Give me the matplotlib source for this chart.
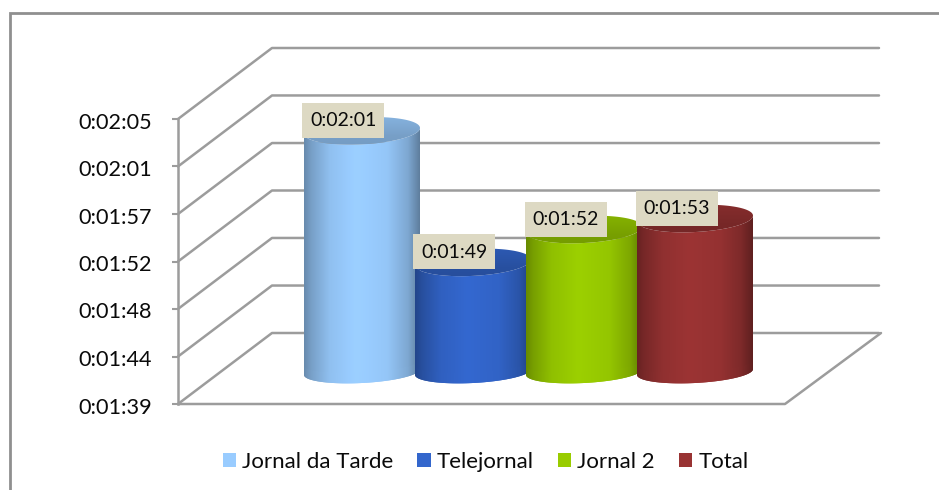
import numpy as np
import matplotlib
matplotlib.use("Agg")
import matplotlib.pyplot as plt
from matplotlib.path import Path
from matplotlib.patches import PathPatch, Rectangle
from matplotlib.transforms import IdentityTransform, ScaledTranslation
from matplotlib.lines import Line2D
from matplotlib.colors import to_rgb

series = ["Jornal da Tarde", "Telejornal", "Jornal 2", "Total"]
seconds = [121, 109, 112, 113]
value_labels = ["0:02:01", "0:01:49", "0:01:52", "0:01:53"]
colors = ["#99CCFF", "#3366CC", "#99CC00", "#993333"]
tick_seconds = [99, 103.33, 107.67, 112, 116.33, 120.67, 125]
tick_labels = ["0:01:39", "0:01:44", "0:01:48", "0:01:52", "0:01:57", "0:02:01", "0:02:05"]

W, H = 939, 490
FONT = "Lato"
GREY = "#9c9c9c"
plt.rcParams["font.family"] = [FONT, "DejaVu Sans"]

fig = plt.figure(figsize=(W / 100, H / 100), dpi=100, facecolor="white")
ax = fig.add_axes([0, 0, 1, 1])
# front plane of the 3-D box: pixels x 178..785, y 404..119
ppx = 607.0
ppy = 285.0 / 26
ax.set_xlim(-0.5 - 178 / ppx, 0.5 + (W - 785) / ppx)
ax.set_ylim(99 - (H - 404) / ppy, 125 + 119 / ppy)
for s in ("top", "right", "bottom"):
    ax.spines[s].set_visible(False)
ax.spines["left"].set_position(("data", -0.5))
ax.spines["left"].set_bounds(99, 125)
ax.spines["left"].set_color(GREY)
ax.spines["left"].set_linewidth(1.8)
ax.set_xticks([])
ax.set_yticks(tick_seconds, tick_labels)
ax.tick_params(axis="y", length=4.5, width=1.5, color=GREY, labelsize=15.6, pad=14, labelcolor="#0a0a0a")
ax.patch.set_alpha(0)
for lab in ax.get_yticklabels():
    lab.set_transform(lab.get_transform() + ScaledTranslation(0, -0.015, fig.dpi_scale_trans))

DX, DY = 94, 71
line_kw = dict(color=GREY, lw=1.8, solid_capstyle="round", solid_joinstyle="round", zorder=1)
def disp(x, y):
    return ax.transData.transform((x, y))
for v in tick_seconds:
    p0 = disp(-0.5, v)
    p1 = p0 + (DX, DY)
    p2 = disp(0.5, v) + (DX, DY)
    ax.add_line(Line2D([p0[0], p1[0], p2[0]], [p0[1], p1[1], p2[1]], transform=IdentityTransform(), **line_kw))
# floor
a = disp(-0.5, 99); b = disp(0.5, 99); c = b + (DX + 2, DY)
ax.add_line(Line2D([a[0], b[0], c[0]], [a[1], b[1], c[1]], transform=IdentityTransform(), **line_kw))

# outer frame: left and top edges run off the picture
frame_kw = dict(color="#8f8f8f", lw=2.0, solid_joinstyle="miter", transform=IdentityTransform(), zorder=1)
ax.add_line(Line2D([9.5, 9.5, W], [0, H - 12.5, H - 12.5], **frame_kw))

def shaded(bbox, rgb, clip, z):
    x0, x1, y0, y1 = bbox
    im = ax.imshow(rgb, extent=(x0, x1, y0, y1), origin="lower", aspect="auto",
                   transform=IdentityTransform(), interpolation="bilinear", zorder=z)
    patch = PathPatch(clip, transform=IdentityTransform(), fc="none", ec="none")
    ax.add_patch(patch)
    im.set_clip_path(patch)

def ellipse_pts(cx, cy, a, b, s, t):
    return np.column_stack([cx + a * np.cos(t), cy + b * np.sin(t) + s * a * np.cos(t)])

def shade(col, f):
    return np.clip(np.array(to_rgb(col)) * f, 0, 1)

HW = 58.0     # half width of a cylinder
RB = 11.0     # half height of the lower ellipse
RT = 13.5     # half height of the upper ellipse
SH = 0.05     # slant of the ellipses
STEP = 111.0 / ppx
for i, (name, v, col) in enumerate(zip(series, seconds, colors)):
    z = 3 + i
    x = (i - 1.5) * STEP
    top = disp(x, v) + (47, 32)
    base = disp(x, 99) + (47, 32)
    cx = top[0]
    t_low = np.linspace(np.pi, 2 * np.pi, 60)
    # body
    body = np.vstack([ellipse_pts(cx, base[1], HW, RB, SH, t_low),
                      ellipse_pts(cx, top[1], HW, RT, SH, t_low[::-1])])
    body_path = Path(np.vstack([body, body[0]]), closed=True)
    u = np.linspace(0, 1, 128)
    stops = [0.0, 0.06, 0.22, 0.45, 0.72, 0.9, 0.97, 1.0]
    facs = [0.68, 0.78, 0.94, 1.02, 0.97, 0.82, 0.68, 0.62]
    f = np.interp(u, stops, facs)
    grad = np.array([[shade(col, k) for k in f]])
    y_lo = base[1] - RB - 8
    y_hi = top[1] + RT + 8
    shaded((cx - HW, cx + HW, y_lo, y_hi), grad, body_path, z)
    # lower bevel
    bev = np.vstack([ellipse_pts(cx, base[1], HW, RB, SH, t_low),
                     ellipse_pts(cx, base[1] + 9, HW * 0.99, RB - 2, SH, t_low[::-1])])
    bev_path = Path(np.vstack([bev, bev[0]]), closed=True)
    g2 = np.array([[shade(col, k) for k in f * 0.97 + 0.03]])
    shaded((cx - HW, cx + HW, y_lo, base[1] + 25), g2, bev_path, z + 0.1)
    # top face
    t_all = np.linspace(0, 2 * np.pi, 120)
    face = Path(ellipse_pts(cx, top[1], HW, RT, SH, t_all), closed=True)
    v_u = np.linspace(0, 1, 32)
    vf = np.interp(v_u, [0, 0.35, 0.8, 1.0], [0.76, 0.78, 0.86, 0.92])
    gv = np.array([[shade(col, k)] for k in vf])
    shaded((cx - HW, cx + HW, top[1] - RT - 6, top[1] + RT + 6), gv, face, z + 0.2)
    # value label box
    ann = top + (-18.5, 10.5)
    ax.add_patch(Rectangle((ann[0] - 41, ann[1] - 17.5), 82, 35, transform=IdentityTransform(),
                           fc="#DDD9C3", ec="none", zorder=20))
    ax.text(ann[0], ann[1] - 0.5, value_labels[i], transform=IdentityTransform(), ha="center", va="center",
            fontsize=14, color="#0a0a0a", zorder=21)

handles = [Rectangle((0, 0), 1, 1, fc=c, ec="none") for c in colors]
leg = ax.legend(handles, series, ncol=4, frameon=False, fontsize=16, loc="center",
                bbox_to_anchor=(485.5 / W, 1 - 462 / H), bbox_transform=fig.transFigure,
                handlelength=0.6, handleheight=0.62, handletextpad=0.26, columnspacing=1.1,
                borderpad=0, labelcolor="#0a0a0a")

fig.savefig("out.png", dpi=100, facecolor="white")
